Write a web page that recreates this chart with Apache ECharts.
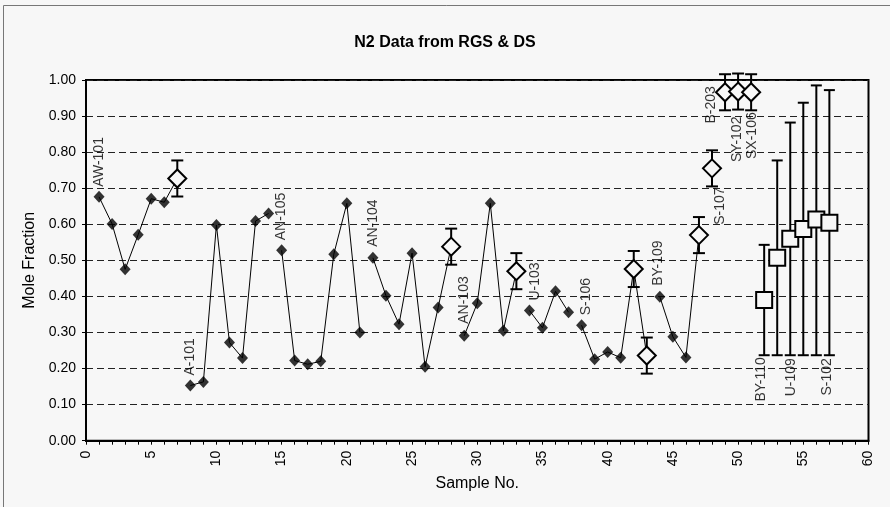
<!DOCTYPE html>
<html><head><meta charset="utf-8">
<script src="https://cdn.jsdelivr.net/npm/echarts@6/dist/echarts.min.js"></script>
<style>html,body{margin:0;padding:0;background:#f7f7f7}#c{width:890px;height:507px}</style>
</head><body><div id="c"></div>
<script>
// ---- data ----
const rgsX = [1,2,3,4,5,6,8,9,10,11,12,13,14,15,16,17,18,19,20,21,22,23,24,25,26,27,29,30,31,32,34,35,36,37,38,39,40,41,44,45,46];
const rgsY = [0.676,0.601,0.475,0.571,0.671,0.661,0.153,0.163,0.598,0.272,0.229,0.609,0.630,0.528,0.222,0.212,0.220,0.517,0.658,0.300,0.507,0.402,0.323,0.520,0.205,0.369,0.291,0.381,0.658,0.305,0.361,0.313,0.414,0.356,0.320,0.226,0.246,0.230,0.399,0.288,0.231];
const dsX = [7,28,33,42,43,47,48,49,50,51];
const dsY = [0.727,0.538,0.470,0.476,0.236,0.570,0.755,0.966,0.968,0.966];
const dsErr = [0.05,0.05,0.05,0.05,0.05,0.05,0.05,0.05,0.05,0.05];
const sqX = [52,53,54,55,56,57];
const sqY = [0.390,0.507,0.560,0.587,0.613,0.604];
const sqLow = [0.237,0.237,0.237,0.237,0.237,0.237];
const sqHigh = [0.543,0.777,0.882,0.937,0.985,0.972];
const groupStart = [1,8,15,22,29,34,38,44];
const groupEnd = [7,14,21,28,33,37,43,47];
const tankNames = ['AW-101','A-101','AN-105','AN-104','AN-103','U-103','S-106','BY-109','S-107','B-203','SY-102','SX-106','BY-110','U-109','S-102'];
const tankSamples = [1,8,15,22,29,34,38,44,48,49,50,51,52,54,57];
const yTicks = ['0.00','0.10','0.20','0.30','0.40','0.50','0.60','0.70','0.80','0.90','1.00'];

// ---- label placement styles (not data) ----
// mode: 'above' point, 'below' lower error end, 'left' of point
const labelStyle = {
  'AW-101':{mode:'above',gap:10,dx:0}, 'A-101':{mode:'above',gap:10,dx:0},
  'AN-105':{mode:'above',gap:10,dx:0}, 'AN-104':{mode:'above',gap:11,dx:0},
  'AN-103':{mode:'above',gap:12,dx:0}, 'U-103':{mode:'above',gap:10,dx:6},
  'S-106':{mode:'above',gap:10,dx:5}, 'BY-109':{mode:'above',gap:11,dx:-2},
  'S-107':{mode:'below',gap:1,dx:8}, 'B-203':{mode:'left',gap:-6,dx:-14},
  'SY-102':{mode:'below',gap:7,dx:-1}, 'SX-106':{mode:'below',gap:2,dx:1},
  'BY-110':{mode:'below',gap:2,dx:-3}, 'U-109':{mode:'below',gap:3,dx:1},
  'S-102':{mode:'below',gap:3,dx:-2}
};

const FONT = "'Liberation Sans', Arial, sans-serif";
const BG = '#f7f7f7';

// lookup of every plotted value by sample number
const valueAt = {};
rgsX.forEach((x,i)=>valueAt[x]=rgsY[i]);
dsX.forEach((x,i)=>valueAt[x]=dsY[i]);
sqX.forEach((x,i)=>valueAt[x]=sqY[i]);
const lowAt = {};
dsX.forEach((x,i)=>lowAt[x]=dsY[i]-dsErr[i]);
sqX.forEach((x,i)=>lowAt[x]=sqLow[i]);

const lineSeries = groupStart.map((s,gi)=>{
  const d=[];
  for(let x=s;x<=groupEnd[gi];x++){ if(valueAt[x]!==undefined) d.push([x,valueAt[x]]); }
  return {type:'line',data:d,symbol:'none',lineStyle:{color:'#000',width:1},z:1,silent:true,animation:false};
});

function errRender(capW){
  return function(params, api){
    const x=api.value(0), lo=api.value(1), hi=api.value(2);
    const a=api.coord([x,lo]), b=api.coord([x,hi]);
    const w=capW/2, st={stroke:'#000',lineWidth:2};
    return {type:'group',children:[
      {type:'line',shape:{x1:a[0],y1:a[1],x2:b[0],y2:b[1]},style:st},
      {type:'line',shape:{x1:a[0]-w,y1:a[1],x2:a[0]+w,y2:a[1]},style:st},
      {type:'line',shape:{x1:b[0]-w,y1:b[1],x2:b[0]+w,y2:b[1]},style:st}
    ]};
  };
}

const labelData = tankNames.map((n,i)=>{
  const x=tankSamples[i], st=labelStyle[n];
  let y, align, off;
  if(st.mode==='above'){ y=valueAt[x]; align='left'; off=[st.gap, st.dx]; }
  else if(st.mode==='below'){ y=lowAt[x]; align='right'; off=[-st.gap, st.dx]; }
  else { y=valueAt[x]; align='right'; off=[-st.gap, st.dx]; }
  return {value:[x,y],label:{show:true,formatter:n,rotate:90,align:align,verticalAlign:'middle',offset:off,position:'inside'}};
});

const chart = echarts.init(document.getElementById('c'), null, {renderer:'canvas'});
chart.setOption({
  backgroundColor: BG,
  animation:false,
  title:{text:'N2 Data from RGS & DS',left:'center',top:30,textStyle:{fontFamily:FONT,fontSize:16,fontWeight:'bold',color:'#000'}},
  grid:{left:86,right:21.5,top:80,bottom:66.3,show:true,borderColor:'#000',borderWidth:2,backgroundColor:'transparent'},
  xAxis:{type:'value',min:0,max:60,interval:5,name:'Sample No.',nameLocation:'middle',nameGap:35,
    nameTextStyle:{fontFamily:FONT,fontSize:16,color:'#000'},
    axisLine:{show:true,onZero:false,lineStyle:{color:'#000',width:2}},
    axisTick:{show:true,inside:false,length:4,lineStyle:{color:'#000',width:1}},
    minorTick:{show:true,splitNumber:5,length:4,lineStyle:{color:'#000',width:1}},
    axisLabel:{rotate:90,fontFamily:FONT,fontSize:14,color:'#000',margin:10},
    splitLine:{show:false}},
  yAxis:{type:'value',min:0,max:1,interval:0.1,name:'Mole Fraction',nameLocation:'middle',nameGap:46,
    nameTextStyle:{fontFamily:FONT,fontSize:16,color:'#000'},
    axisLine:{show:true,lineStyle:{color:'#000',width:2}},
    axisTick:{show:true,inside:false,length:4,lineStyle:{color:'#000',width:1}},
    axisLabel:{fontFamily:FONT,fontSize:14,color:'#000',margin:10,formatter:(v,i)=>yTicks[Math.round(v*10)]},
    splitLine:{show:true,lineStyle:{color:'#222',width:1,type:[7,4]}}},
  graphic:[{type:'polyline',shape:{points:[[3.5,507],[3.5,5.5],[890,5.5]]},style:{stroke:'#777',lineWidth:1,fill:null},silent:true}],
  series:[
    ...lineSeries,
    {type:'scatter',data:rgsX.map((x,i)=>[x,rgsY[i]]),symbol:'diamond',symbolSize:[11,12],itemStyle:{color:'#000'},z:3},
    {type:'custom',data:dsX.map((x,i)=>[x,dsY[i]-dsErr[i],dsY[i]+dsErr[i]]),renderItem:errRender(12),encode:{x:0,y:[1,2]},z:2,clip:false},
    {type:'custom',data:sqX.map((x,i)=>[x,sqLow[i],sqHigh[i]]),renderItem:errRender(11),encode:{x:0,y:[1,2]},z:2,clip:false},
    {type:'scatter',data:dsX.map((x,i)=>[x,dsY[i]]),symbol:'diamond',symbolSize:[18,18],itemStyle:{color:BG,borderColor:'#000',borderWidth:2,opacity:1},z:4},
    {type:'scatter',data:sqX.map((x,i)=>[x,sqY[i]]),symbol:'rect',symbolSize:[16,16],itemStyle:{color:BG,borderColor:'#000',borderWidth:2,opacity:1},z:4},
    {type:'scatter',data:labelData,symbolSize:0,itemStyle:{color:'transparent'},label:{fontFamily:FONT,fontSize:14,color:'#000'},z:5,silent:true}
  ]
});
</script></body></html>
